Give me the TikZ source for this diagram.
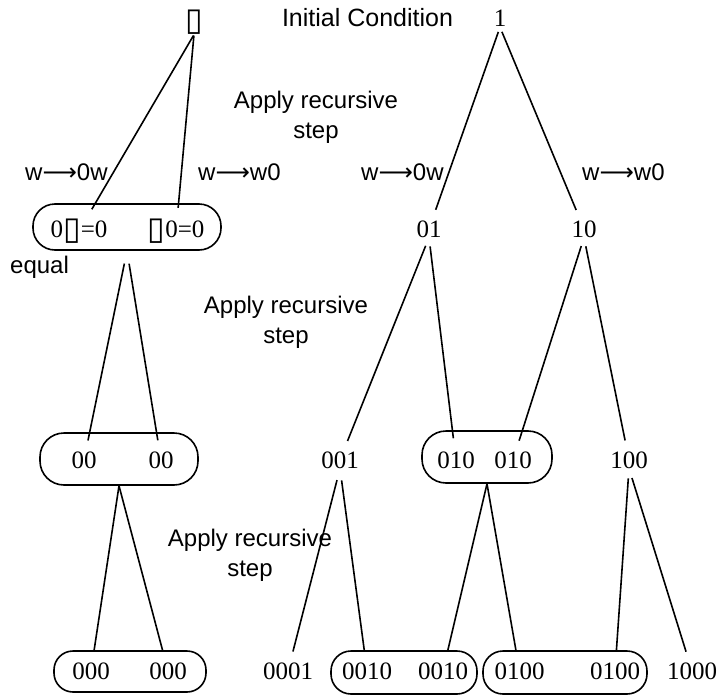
\documentclass[tikz,border=0pt]{standalone}
\usepackage{fontspec}
\setmainfont{Liberation Serif}
\newfontfamily\labfont{Liberation Sans}
\newfontfamily\dvfont{DejaVu Sans}
\newcommand{\bx}{\raisebox{-2.5pt}{\dvfont\fontsize{32}{32}\selectfont ▯}}
\newcommand{\arr}{{\dvfont ⟶}}
\begin{document}
\begin{tikzpicture}[x=1pt,y=-1pt,
  num/.style={font=\fontsize{25}{25}\selectfont, inner sep=0pt, anchor=base},
  lbl/.style={font=\labfont\fontsize{24}{30}\selectfont, inner sep=0pt, anchor=base, align=center},
  pill/.style={draw, line width=1.6pt, rounded corners=22pt},
  edge/.style={line width=1.6pt, shorten >=11pt}
]
\useasboundingbox (0,0) rectangle (718,696);

% pills
\node[pill, minimum width=188pt, minimum height=46pt] (b1) at (127,227) {};
\node[pill, minimum width=158pt, minimum height=52pt, rounded corners=24pt] (b2) at (119,459) {};
\node[pill, minimum width=130pt, minimum height=52pt, rounded corners=24pt] (b3) at (487,457) {};
\node[pill, minimum width=152pt, minimum height=41pt, rounded corners=19pt] (b4) at (130,671.5) {};
\node[pill, minimum width=146pt, minimum height=43pt, rounded corners=20pt] (b5) at (404,672.5) {};
\node[pill, minimum width=164pt, minimum height=43pt, rounded corners=20pt] (b6) at (565,672.5) {};

% labels
\node[lbl, font=\labfont\fontsize{25}{30}\selectfont] (ic) at (367.5,27) {Initial Condition};
\node[lbl] (ap1) at (316,138) {Apply recursive\\step};
\node[lbl] (ap2) at (286,343) {Apply recursive\\step};
\node[lbl] (ap3) at (250,576) {Apply recursive\\step};
\node[lbl, anchor=base west] (r1) at (25,180) {w\arr0w};
\node[lbl, anchor=base west] (r2) at (198,180) {w\arr w0};
\node[lbl, anchor=base west] (r3) at (361,180) {w\arr0w};
\node[lbl, anchor=base west] (r4) at (582,180) {w\arr w0};
\node[lbl, anchor=base west] (eq) at (10,273) {equal};

% row 1
\node[num] (tb) at (194,28) {\bx};
\node[num] (one) at (500,27) {1};
% row 2
\node[num] (lz) at (79,237) {0\bx=0};
\node[num] (rz) at (176,237) {\bx0=0};
\node[num] (n01) at (429,237) {01};
\node[num] (n10) at (584,237) {10};
% row 3
\node[num] (a00) at (84,468) {00};
\node[num] (b00) at (161,468) {00};
\node[num] (n001) at (340,468) {001};
\node[num] (a010) at (456,468) {010};
\node[num] (b010) at (513,468) {010};
\node[num] (n100) at (629,468) {100};
% row 4
\node[num] (a000) at (91,679) {000};
\node[num] (b000) at (168,679) {000};
\node[num] (n0001) at (288,679) {0001};
\node[num] (a0010) at (367,679) {0010};
\node[num] (b0010) at (443,679) {0010};
\node[num] (a0100) at (519.5,679) {0100};
\node[num] (b0100) at (615,679) {0100};
\node[num] (n1000) at (692,679) {1000};

% edges
\draw[edge, shorten <=1pt] (tb.south) -- (lz);
\draw[edge, shorten <=1pt] (tb.south) -- (rz);
\draw[edge, shorten <=5pt] (one.south) -- (n01);
\draw[edge, shorten <=5pt] (one.south) -- (n10);
\draw[edge, shorten <=13pt] (b1.south) -- (a00);
\draw[edge, shorten <=13pt] (b1.south) -- (b00);
\draw[edge, shorten <=9pt] (n01.south) -- (n001);
\draw[edge, shorten <=9pt, shorten >=13pt] (n01.south) -- (a010);
\draw[edge, shorten <=9pt] (n10.south) -- (b010);
\draw[edge, shorten <=9pt] (n10.south) -- (n100);
\draw[edge] (b2.south) -- (a000);
\draw[edge] (b2.south) -- (b000);
\draw[edge, shorten <=12pt] (n001.south) -- (n0001);
\draw[edge, shorten <=12pt] (n001.south) -- (a0010);
\draw[edge] (b3.south) -- (b0010);
\draw[edge] (b3.south) -- (a0100);
\draw[edge, shorten <=10pt] (n100.south) -- (b0100);
\draw[edge, shorten <=10pt] (n100.south) -- (n1000);
\end{tikzpicture}
\end{document}
